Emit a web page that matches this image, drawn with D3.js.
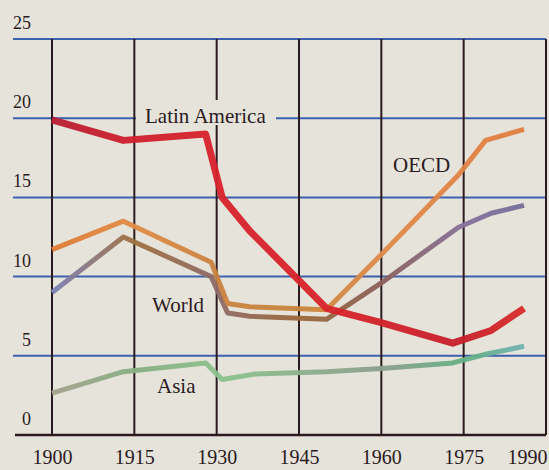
<!DOCTYPE html>
<html>
<head>
<meta charset="utf-8">
<script src="https://cdn.jsdelivr.net/npm/d3@7"></script>
<style>
	body { margin: 0; background: #e6e4da; }
	svg { display: block; }
	text { font-family: "Liberation Serif", "Times New Roman", serif; fill: #2b1a1f; }
</style>
</head>
<body>
<div id="chart"></div>
<script>

// ticks
var xTicks = [1900, 1915, 1930, 1945, 1960, 1975, 1990];
var yTicks = [0, 5, 10, 15, 20, 25];

// series
var latinYears  = [1900, 1913, 1928, 1931, 1936, 1950, 1960, 1973, 1980, 1986];
var latinValues = [19.9, 18.6, 19.0, 15.0, 12.9, 8.0, 7.1, 5.8, 6.6, 8.0];

var oecdYears  = [1900, 1913, 1929, 1932, 1936, 1950, 1960, 1974, 1979, 1986];
var oecdValues = [11.7, 13.5, 10.9, 8.3, 8.1, 7.9, 11.4, 16.4, 18.6, 19.3];

var worldYears  = [1900, 1913, 1929, 1932, 1936, 1950, 1960, 1974, 1980, 1986];
var worldValues = [9.0, 12.5, 10.0, 7.7, 7.5, 7.3, 9.6, 13.1, 14.0, 14.5];

var asiaYears  = [1900, 1913, 1928, 1931, 1937, 1950, 1960, 1973, 1979, 1986];
var asiaValues = [2.65, 4.0, 4.55, 3.5, 3.85, 4.0, 4.2, 4.55, 5.1, 5.6];

// set the specs
var width = 549;
var height = 470;
var bg = "#e6e4da";

var svg = d3.select("#chart")
	.append("svg")
	.attr("width", width)
	.attr("height", height);

svg.append("rect")
	.attr("width", width)
	.attr("height", height)
	.attr("fill", bg);

// scales
var xScale = d3.scaleLinear()
	.domain([1900, 1990])
	.range([52, 546]);

var yScale = d3.scaleLinear()
	.domain([0, 25])
	.range([435, 39]);

// horizontal grid lines (blue)
svg.append("g")
	.selectAll("line")
	.data(yTicks.filter(function(d){ return d > 0; }))
	.enter()
	.append("line")
	.attr("x1", 13)
	.attr("x2", 546)
	.attr("y1", function(d){ return yScale(d); })
	.attr("y2", function(d){ return yScale(d); })
	.attr("stroke", "#3d5fae")
	.attr("stroke-width", 2);

// vertical grid lines (dark)
svg.append("g")
	.selectAll("line")
	.data(xTicks)
	.enter()
	.append("line")
	.attr("x1", function(d){ return xScale(d); })
	.attr("x2", function(d){ return xScale(d); })
	.attr("y1", yScale(25))
	.attr("y2", yScale(0))
	.attr("stroke", "#2b1a1f")
	.attr("stroke-width", 2);

// base line
svg.append("line")
	.attr("x1", 15)
	.attr("x2", 546)
	.attr("y1", yScale(0))
	.attr("y2", yScale(0))
	.attr("stroke", "#2b1a1f")
	.attr("stroke-width", 2.5);

// y tick labels, sitting above their lines
svg.append("g")
	.selectAll("text")
	.data(yTicks)
	.enter()
	.append("text")
	.attr("x", 31)
	.attr("y", function(d){ return yScale(d) - 10; })
	.attr("text-anchor", "end")
	.attr("font-size", 18)
	.text(function(d){ return d; });

// x axis labels
var xAxis = d3.axisBottom(xScale)
	.tickValues(xTicks)
	.tickSize(0)
	.tickPadding(0)
	.tickFormat(d3.format("d"));

var xg = svg.append("g")
	.attr("transform", "translate(0,464)")
	.call(xAxis);
xg.select(".domain").remove();
xg.selectAll("text")
	.attr("dy", 0)
	.attr("font-size", 20)
	.attr("fill", "#2b1a1f")
	.attr("font-family", "Liberation Serif, serif");
xg.selectAll(".tick").filter(function(d){ return d === 1990; })
	.select("text")
	.attr("text-anchor", "end")
	.attr("x", 547 - xScale(1990));

// gradients to get the printed colour drift along each line
var defs = svg.append("defs");
function gradient(id, stops) {
	var g = defs.append("linearGradient")
		.attr("id", id)
		.attr("gradientUnits", "userSpaceOnUse")
		.attr("x1", xScale(1900)).attr("x2", xScale(1990))
		.attr("y1", 0).attr("y2", 0);
	stops.forEach(function(s){
		g.append("stop")
			.attr("offset", (s[0] - 1900) / 90)
			.attr("stop-color", s[1]);
	});
}
gradient("gLatin", [[1900, "#b81e34"], [1915, "#cf1f2c"], [1930, "#d8222c"], [1950, "#d8232a"], [1975, "#c81f2a"], [1990, "#e0302a"]]);
gradient("gOecd", [[1900, "#df7a36"], [1915, "#e08c45"], [1930, "#c98240"], [1945, "#c8843a"], [1960, "#e08a4a"], [1990, "#e27b3e"]]);
gradient("gWorld", [[1900, "#7b80b8"], [1915, "#a0703f"], [1930, "#8e6a68"], [1945, "#9a6838"], [1960, "#8b5f5a"], [1975, "#86709a"], [1990, "#6c6e9c"]]);
gradient("gAsia", [[1900, "#a3a28c"], [1915, "#86ae82"], [1932, "#8cc28c"], [1960, "#8a9e8c"], [1975, "#64b082"], [1990, "#72b2c2"]]);

var line = d3.line()
	.x(function(d){ return xScale(d[0]); })
	.y(function(d){ return yScale(d[1]); });

function drawSeries(years, values, stroke, w) {
	svg.append("path")
		.datum(d3.zip(years, values))
		.attr("d", line)
		.attr("fill", "none")
		.attr("stroke", stroke)
		.attr("stroke-width", w)
		.attr("stroke-linejoin", "round")
		.attr("stroke-linecap", "butt")
		.attr("opacity", 0.95);
}

drawSeries(asiaYears, asiaValues, "url(#gAsia)", 5);
drawSeries(worldYears, worldValues, "url(#gWorld)", 5);
drawSeries(oecdYears, oecdValues, "url(#gOecd)", 5);
drawSeries(latinYears, latinValues, "url(#gLatin)", 7);

// labels
svg.append("rect")
	.attr("x", 136).attr("y", 100)
	.attr("width", 140).attr("height", 25)
	.attr("fill", bg);

var labels = [
	["Latin America", 145, 123],
	["OECD", 393, 172],
	["World", 152, 312],
	["Asia", 157, 393]
];
svg.append("g")
	.selectAll("text")
	.data(labels)
	.enter()
	.append("text")
	.attr("x", function(d){ return d[1]; })
	.attr("y", function(d){ return d[2]; })
	.attr("font-size", 21)
	.text(function(d){ return d[0]; });

</script>
</body>
</html>
